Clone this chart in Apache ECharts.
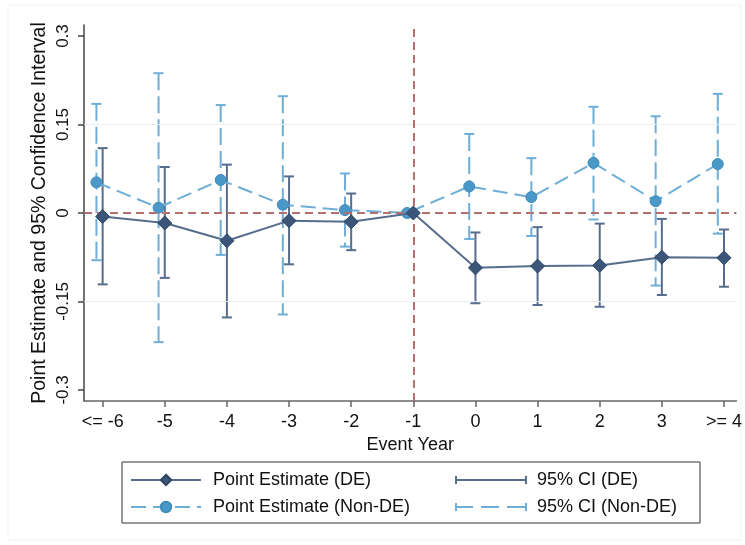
<!DOCTYPE html>
<html>
<head>
<meta charset="utf-8">
<script src="https://cdn.jsdelivr.net/npm/echarts@6/dist/echarts.min.js"></script>
<style>
  html, body { margin: 0; padding: 0; background: #fff; }
  #chart { width: 745px; height: 545px; }
</style>
</head>
<body>
<div id="chart"></div>
<script>
// event-year categories (x = index - 6)
const categories = ['<= -6', '-5', '-4', '-3', '-2', '-1', '0', '1', '2', '3', '>= 4'];
const yTicks = [-0.3, -0.15, 0, 0.15, 0.3];

// DE estimates and 95% CI (-1 is the reference year, no CI)
const deEst = [-0.006, -0.017, -0.047, -0.013, -0.015, 0, -0.093, -0.090, -0.089, -0.075, -0.076];
const deLo  = [-0.121, -0.110, -0.177, -0.087, -0.063, null, -0.153, -0.156, -0.159, -0.139, -0.125];
const deHi  = [0.110, 0.078, 0.082, 0.062, 0.033, null, -0.033, -0.024, -0.018, -0.010, -0.028];

// Non-DE estimates and 95% CI
const ndEst = [0.052, 0.009, 0.056, 0.014, 0.005, 0, 0.045, 0.027, 0.085, 0.020, 0.083];
const ndLo  = [-0.080, -0.219, -0.071, -0.172, -0.057, null, -0.044, -0.039, -0.011, -0.123, -0.035];
const ndHi  = [0.185, 0.237, 0.183, 0.198, 0.067, null, 0.134, 0.093, 0.180, 0.164, 0.202];

const DE_LINE = '#566d8d';
const DE_MARK = '#3b5678';
const ND_LINE = '#6eaed6';
const ND_MARK = '#4a98c8';
const REF = '#b4706f';
const ND_SHIFT = -0.1; // non-DE drawn slightly left of the tick

const xOf = (i) => i - 6;
const font = 'Liberation Sans, Arial, Helvetica, sans-serif';

const estData = (arr, shift) => arr.map((v, i) => [xOf(i) + shift, v]);
const ciData = (lo, hi, shift) => lo
  .map((v, i) => (v == null ? null : [xOf(i) + shift, v, hi[i]]))
  .filter((d) => d);

function ciRenderer(color, dash) {
  return function (params, api) {
    const x = api.value(0);
    const top = api.coord([x, api.value(2)]);
    const bot = api.coord([x, api.value(1)]);
    const cap = 5;
    const capStyle = { stroke: color, lineWidth: 2 };
    return {
      type: 'group',
      children: [
        { type: 'line', shape: { x1: top[0], y1: top[1], x2: bot[0], y2: bot[1] },
          style: { stroke: color, lineWidth: 2, lineDash: dash } },
        { type: 'line', shape: { x1: top[0] - cap, y1: top[1], x2: top[0] + cap, y2: top[1] }, style: capStyle },
        { type: 'line', shape: { x1: bot[0] - cap, y1: bot[1], x2: bot[0] + cap, y2: bot[1] }, style: capStyle },
      ],
    };
  };
}

const solidCiIcon = 'path://M0,0h2v8h-2zM70,0h2v8h-2zM0,3h72v2h-72z';
const dashCiIcon = 'path://M0,0h2v8h-2zM70,0h2v8h-2zM0,3h18v2h-18zM26,3h18v2h-18zM52,3h20v2h-20z';

const chart = echarts.init(document.getElementById('chart'));
chart.setOption({
  animation: false,
  backgroundColor: '#fff',
  grid: { left: 84, right: 7, top: 25, bottom: 144 },
  xAxis: {
    type: 'value',
    min: -6.3,
    max: 4.2,
    name: 'Event Year',
    nameLocation: 'middle',
    nameGap: 34,
    nameTextStyle: { fontFamily: font, fontSize: 18, color: '#111' },
    axisLine: { show: true, onZero: false, lineStyle: { color: '#666', width: 1.5 } },
    axisTick: { show: true, length: 6, customValues: categories.map((c, i) => xOf(i)), lineStyle: { color: '#666', width: 1.5 } },
    axisLabel: {
      customValues: categories.map((c, i) => xOf(i)),
      formatter: (v) => categories[Math.round(v) + 6],
      fontFamily: font, fontSize: 18, color: '#111', margin: 12,
    },
    splitLine: { show: false },
  },
  yAxis: {
    type: 'value',
    min: -0.3187,
    max: 0.3187,
    name: 'Point Estimate and 95% Confidence Interval',
    nameLocation: 'middle',
    nameRotate: 90,
    nameGap: 34,
    nameMoveOverlap: false,
    nameTextStyle: { fontFamily: font, fontSize: 19.5, color: '#111' },
    axisLine: { show: true, onZero: false, lineStyle: { color: '#444', width: 1.5 } },
    axisTick: { show: true, length: 6, customValues: yTicks, lineStyle: { color: '#444', width: 1.5 } },
    axisLabel: {
      customValues: yTicks,
      formatter: (v) => String(v),
      rotate: 90,
      fontFamily: font, fontSize: 17, color: '#111', margin: 12,
    },
    splitLine: { show: false },
  },
  legend: [
    {
      orient: 'vertical',
      left: 130,
      top: 471,
      padding: 0,
      itemWidth: 70,
      itemHeight: 13,
      itemGap: 9,
      textStyle: { fontFamily: font, fontSize: 18, color: '#111', padding: [0, 0, 0, 7] },
      data: ['Point Estimate (DE)', 'Point Estimate (Non-DE)'],
    },
    {
      orient: 'vertical',
      left: 455,
      top: 471,
      padding: 0,
      itemWidth: 72,
      itemHeight: 8,
      itemGap: 9,
      textStyle: { fontFamily: font, fontSize: 18, color: '#111', padding: [0, 0, 0, 5] },
      data: [
        { name: '95% CI (DE)', icon: solidCiIcon, itemStyle: { color: DE_LINE } },
        { name: '95% CI (Non-DE)', icon: dashCiIcon, itemStyle: { color: ND_LINE } },
      ],
    },
  ],
  graphic: [
    { type: 'rect', shape: { x: 122, y: 462, width: 578, height: 61 },
      style: { fill: 'none', stroke: '#333', lineWidth: 1 }, z: 0 },
    { type: 'rect', shape: { x: 8, y: 5, width: 733, height: 535 },
      style: { fill: 'none', stroke: '#f2f2f2', lineWidth: 1 }, z: 0 },
  ],
  series: [
    {
      name: 'ref',
      type: 'line',
      data: [],
      z: 1,
      silent: true,
      markLine: {
        symbol: 'none',
        silent: true,
        label: { show: false },
        data: [
          { yAxis: 0.15, lineStyle: { color: '#e5eef1', width: 1, type: 'solid' } },
          { yAxis: -0.15, lineStyle: { color: '#e5eef1', width: 1, type: 'solid' } },
          { yAxis: 0, lineStyle: { color: REF, width: 2, type: [8, 5] } },
          { xAxis: -1, lineStyle: { color: REF, width: 2, type: [8, 5] } },
        ],
      },
    },
    {
      name: '95% CI (Non-DE)',
      type: 'custom',
      z: 2,
      itemStyle: { color: ND_LINE },
      renderItem: ciRenderer(ND_LINE, [17, 6]),
      encode: { x: 0, y: [1, 2] },
      data: ciData(ndLo, ndHi, ND_SHIFT),
    },
    {
      name: '95% CI (DE)',
      type: 'custom',
      z: 3,
      itemStyle: { color: DE_LINE },
      renderItem: ciRenderer(DE_LINE, null),
      encode: { x: 0, y: [1, 2] },
      data: ciData(deLo, deHi, 0),
    },
    {
      name: 'Point Estimate (Non-DE)',
      type: 'line',
      z: 4,
      symbol: 'circle',
      symbolSize: 11,
      lineStyle: { color: ND_LINE, width: 2, type: [15, 7] },
      itemStyle: { color: ND_MARK, borderColor: '#3f8bbb', borderWidth: 1 },
      data: estData(ndEst, ND_SHIFT),
    },
    {
      name: 'Point Estimate (DE)',
      type: 'line',
      z: 5,
      symbol: 'diamond',
      symbolSize: 14,
      lineStyle: { color: DE_LINE, width: 2 },
      itemStyle: { color: DE_MARK, borderColor: '#2c4564', borderWidth: 1 },
      data: estData(deEst, 0),
    },
  ],
});
</script>
</body>
</html>
